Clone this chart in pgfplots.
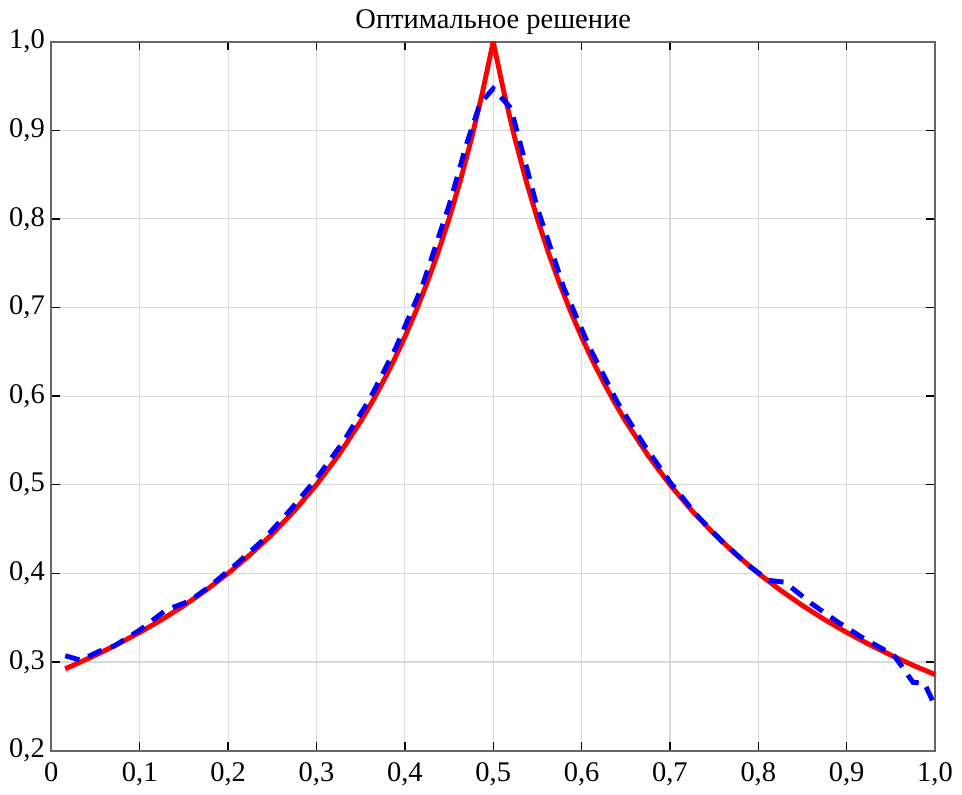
\documentclass[border=0pt]{standalone}
\usepackage{fontspec}
\setmainfont{Liberation Serif}
\usepackage{pgfplots}
\pgfplotsset{compat=1.18}

\begin{document}
\fontsize{14}{17}\selectfont
\begin{tikzpicture}
\begin{axis}[
  scale only axis,
  width=450pt, height=361pt,
  xmin=0, xmax=1, ymin=0.2, ymax=1.0,
  xtick={0,0.1,...,1.0},
  ytick={0.2,0.3,...,1.0},
  xticklabels={0,{0,1},{0,2},{0,3},{0,4},{0,5},{0,6},{0,7},{0,8},{0,9},{1,0}},
  yticklabels={{0,2},{0,3},{0,4},{0,5},{0,6},{0,7},{0,8},{0,9},{1,0}},
  /pgf/number format/assume math mode=true,
  tick label style={font=\fontsize{14.5}{17}\selectfont},
  yticklabel style={xshift=1.5pt},
  xticklabel style={yshift=-1pt},
  tick align=inside,
  major tick length=4.5pt,
  every tick/.style={black, line width=0.7pt},
  axis line style={black!60, line width=1pt},
  grid=major,
  major grid style={black!15, line width=0.6pt},
  title={Оптимальное решение},
  title style={font=\fontsize{14.5}{17}\selectfont, yshift=-7pt},
  clip=true,
]
% exact solution
\addplot[red, line width=2.5pt] coordinates {
 (0.0157,0.2923) (0.025,0.2963) (0.05,0.3077) (0.075,0.3200) (0.1,0.3333)
 (0.125,0.3478) (0.15,0.3636) (0.175,0.3810) (0.2,0.4000) (0.225,0.4211)
 (0.25,0.4444) (0.275,0.4706) (0.3,0.5000) (0.325,0.5333) (0.35,0.5714)
 (0.3625,0.5926) (0.375,0.6154) (0.3875,0.6400) (0.4,0.6667) (0.4125,0.6957)
 (0.425,0.7273) (0.4375,0.7619) (0.45,0.8000) (0.4625,0.8421) (0.475,0.8889)
 (0.4875,0.9412) (0.5,1.0000)
 (0.5125,0.9412) (0.525,0.8889) (0.5375,0.8421) (0.55,0.8000) (0.5625,0.7619)
 (0.575,0.7273) (0.5875,0.6957) (0.6,0.6667) (0.6125,0.6400) (0.625,0.6154)
 (0.6375,0.5926) (0.65,0.5714) (0.675,0.5333) (0.7,0.5000) (0.725,0.4706)
 (0.75,0.4444) (0.775,0.4211) (0.8,0.4000) (0.825,0.3810) (0.85,0.3636)
 (0.875,0.3478) (0.9,0.3333) (0.925,0.3200) (0.95,0.3077) (0.975,0.2963)
 (1.0,0.2857)
};
% approximate solution
\addplot[blue, line width=2.5pt, dash pattern=on 7.5pt off 5pt] coordinates {
 (0.0157,0.307) (0.033,0.302) (0.054,0.312) (0.071,0.318) (0.10,0.336)
 (0.129,0.358) (0.136,0.361) (0.157,0.369) (0.18,0.386) (0.21,0.411)
 (0.24,0.438) (0.27,0.471) (0.30,0.507) (0.33,0.548) (0.36,0.596)
 (0.39,0.655) (0.42,0.725) (0.45,0.815) (0.47,0.885) (0.485,0.930)
 (0.5,0.947) (0.52,0.925) (0.55,0.812) (0.58,0.722) (0.61,0.653)
 (0.64,0.594) (0.67,0.546) (0.70,0.503) (0.73,0.466) (0.76,0.435)
 (0.79,0.408) (0.812,0.392) (0.83,0.390) (0.86,0.366) (0.89,0.345)
 (0.92,0.326) (0.953,0.308) (0.966,0.290) (0.975,0.277) (0.988,0.276)
 (1.0,0.250)
};
\end{axis}
\end{tikzpicture}
\end{document}
